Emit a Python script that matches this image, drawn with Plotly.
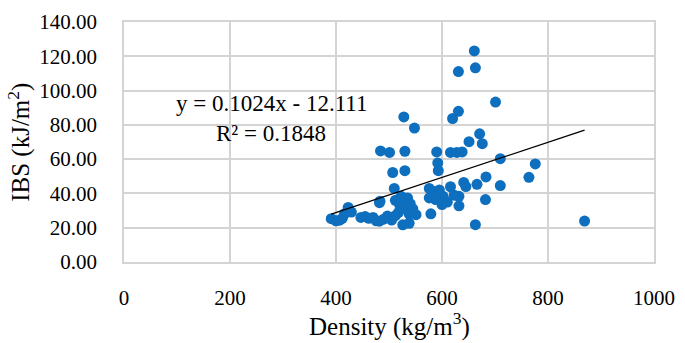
import plotly.graph_objects as go

density = [661, 631, 663, 701, 528, 548, 631, 620, 671, 651, 676,
           484, 501, 530, 590, 616, 628, 638, 710, 592, 593, 507, 530,
           776, 764, 683, 666, 710, 641, 616, 682, 632, 632, 602, 623, 663, 869,
           510, 576, 585, 576, 588, 595, 579, 482, 523, 535, 512, 520, 528, 540,
           533, 545, 518, 538, 526, 538, 551, 391, 400, 407, 412, 416, 423, 429,
           447, 455, 462, 470, 476, 482, 490, 497, 505, 512, 610, 645, 483, 600]
ibs = [123.1, 111.1, 113.3, 93.3, 84.6, 78.1, 87.9, 83.7, 74.8, 70.2, 69.0,
       64.8, 63.9, 64.6, 64.2, 63.9, 63.9, 64.2, 60.3, 57.8, 53.3, 52.2, 53.3,
       57.2, 49.4, 49.6, 45.3, 44.6, 46.4, 43.9, 36.4, 32.8, 38.3, 38.3, 39.0, 21.8, 23.9,
       42.9, 42.9, 41.1, 37.4, 36.4, 42.0, 28.1, 34.6, 38.3, 37.4, 36.0, 33.5, 35.0, 34.0,
       31.0, 31.0, 29.0, 28.0, 21.7, 22.6, 27.6, 25.3, 24.0, 24.4, 25.5, 28.1, 31.8, 29.1,
       26.0, 26.5, 25.5, 26.0, 24.0, 23.8, 25.0, 26.8, 24.5, 27.0, 35.0, 44.0, 35.5, 33.5]

slope = 0.1024
intercept = -12.111
eq_text = "y = 0.1024x - 12.111"
r2_text = "R² = 0.1848"

x_ticks = [0, 200, 400, 600, 800, 1000]
y_ticks = [0, 20, 40, 60, 80, 100, 120, 140]

FONT = "Liberation Serif, Times New Roman, serif"
GRID = "#d4d4d4"

fig = go.Figure()
fig.add_trace(go.Scatter(x=density, y=ibs, mode="markers",
                         marker=dict(color="#0E6FBE", size=11),
                         showlegend=False, hoverinfo="x+y"))
x0, x1 = min(density), max(density)
fig.add_trace(go.Scatter(x=[x0, x1], y=[slope * x0 + intercept, slope * x1 + intercept],
                         mode="lines", line=dict(color="black", width=1.3),
                         showlegend=False, hoverinfo="skip"))

fig.add_annotation(x=278, y=92.4, xref="x", yref="y", text=eq_text, showarrow=False,
                   font=dict(family=FONT, size=23, color="black"))
fig.add_annotation(x=278, y=75.2, xref="x", yref="y", text=r2_text, showarrow=False,
                   font=dict(family=FONT, size=23, color="black"))

fig.add_annotation(x=0.5, y=-0.262, xref="paper", yref="paper", text="Density (kg/m<sup>3</sup>)",
                   showarrow=False, xanchor="center", yanchor="middle",
                   font=dict(family=FONT, size=25, color="black"))
fig.add_annotation(x=-0.1985, y=0.5, xref="paper", yref="paper", text="IBS (kJ/m<sup>2</sup>)",
                   showarrow=False, xanchor="center", yanchor="middle", textangle=-90,
                   font=dict(family=FONT, size=25, color="black"))

fig.update_layout(
    width=685, height=343,
    margin=dict(l=124, r=27, t=10, b=81),
    paper_bgcolor="white", plot_bgcolor="white",
    font=dict(family=FONT, size=21, color="black"),
    xaxis=dict(range=[0, 1000], tickvals=x_ticks, ticktext=[str(v) for v in x_ticks],
               showgrid=True, gridcolor=GRID, gridwidth=1.5, zeroline=False,
               showline=True, linecolor=GRID, linewidth=1.5, mirror=True,
               ticks="", ticklabelstandoff=16, fixedrange=True),
    yaxis=dict(range=[0, 140], tickvals=y_ticks, ticktext=[f"{v:.2f}" for v in y_ticks],
               showgrid=True, gridcolor=GRID, gridwidth=1.5, zeroline=False,
               showline=True, linecolor=GRID, linewidth=1.5, mirror=True,
               ticks="", ticklabelstandoff=21, fixedrange=True),
)

fig.write_html("out.html", config={"displayModeBar": False},
               post_script="document.body.style.margin='0';document.body.style.padding='0';")
